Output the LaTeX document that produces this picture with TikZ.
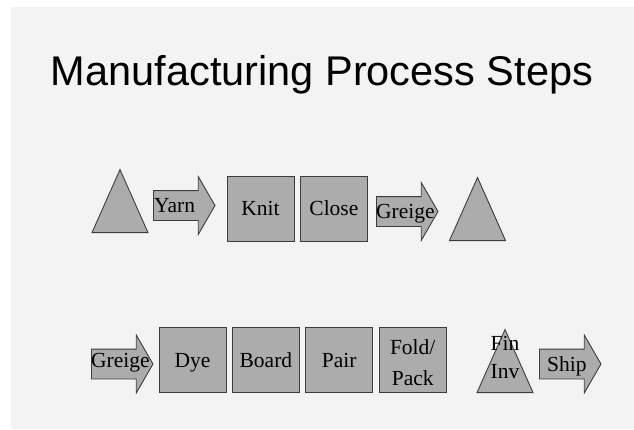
\documentclass[tikz,border=0pt]{standalone}
\usepackage{fontspec}
\setmainfont{Liberation Serif}
\newfontfamily\titlefont{Liberation Sans}
\usetikzlibrary{shapes.geometric,shapes.arrows,positioning}

\definecolor{slidegray}{RGB}{243,243,243}
\definecolor{shapegray}{RGB}{172,172,172}
\definecolor{edgegray}{RGB}{60,60,60}

\tikzset{
  stepbox/.style={rectangle, draw=edgegray, fill=shapegray, line width=0.9pt,
    minimum width=67pt, minimum height=65pt, inner sep=0pt,
    text height=16pt, text depth=2pt, font=\fontsize{21.5}{24}\selectfont},
  flowarrow/.style={single arrow, draw=edgegray, fill=shapegray, line width=0.9pt,
    single arrow head extend=14pt, single arrow tip angle=120,
    inner xsep=26pt, inner ysep=14.5pt},
  stocktri/.style={isosceles triangle, shape border rotate=90, isosceles triangle stretches,
    draw=edgegray, fill=shapegray, line width=0.9pt, minimum width=56pt, minimum height=63pt,
    inner sep=0pt},
  steplabel/.style={inner sep=0pt, text height=16pt, text depth=2pt,
    font=\fontsize{21.5}{24}\selectfont}
}

\begin{document}
\begin{tikzpicture}[x=1pt, y=-1pt, node distance=5.5pt]
  \useasboundingbox (0,0) rectangle (634,429);
  \fill[white] (0,0) rectangle (634,429);
  \fill[slidegray] (11,7) rectangle (634,429);

  % title
  \node[font=\titlefont\fontsize{41.5}{46}\selectfont] (title) at (322,75) {Manufacturing Process Steps};

  % first row: yarn to greige
  \node[stocktri, anchor=lower side] (rawstock) at (120,233) {};
  \node[flowarrow, anchor=tail] (yarn) at (153,205.5) {};
  \node[steplabel, anchor=west] at ([xshift=1pt]yarn.tail) {Yarn};
  \node[stepbox] (knit) at (260.5,208.5) {Knit};
  \node[stepbox, right=of knit] (close) {Close};
  \node[flowarrow, anchor=tail] (greigeout) at (376,211.5) {};
  \node[steplabel, anchor=west] at (greigeout.tail) {Greige};
  \node[stocktri, anchor=lower side] (greigestock) at (477.5,241) {};

  % second row: greige to shipping
  \node[flowarrow, anchor=tail] (greigein) at (91,364) {};
  \node[steplabel, anchor=west] at ([yshift=4pt]greigein.tail) {Greige};
  \node[stepbox] (dye) at (192.5,360) {Dye};
  \node[stepbox, right=of dye] (board) {Board};
  \node[stepbox, right=of board] (pair) {Pair};
  \node[stepbox, right=of pair, align=center, text height=, text depth=] (foldpack) {\rule{0pt}{21pt}Fold/\\[7pt]Pack};
  \node[stocktri, anchor=lower side] (fininv) at (505,393) {};
  \node[steplabel, align=center, text height=, text depth=] at (505,357) {Fin\\[4pt]Inv};
  \node[flowarrow, anchor=tail] (ship) at (539,364) {};
  \node[steplabel, anchor=west] at ([xshift=8pt]ship.tail) {Ship};
\end{tikzpicture}
\end{document}
